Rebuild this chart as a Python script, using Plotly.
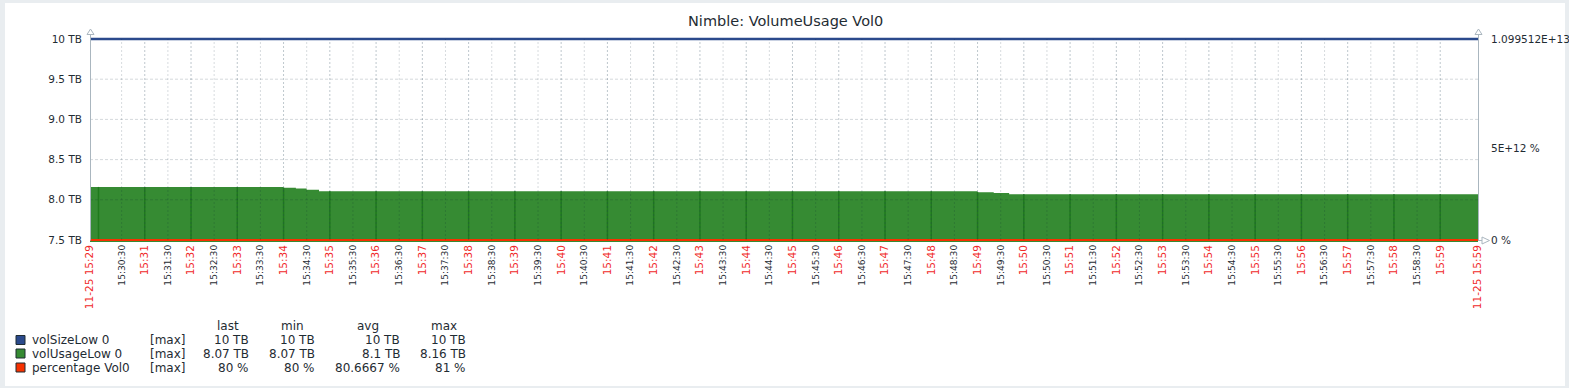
import plotly.graph_objects as go
import pandas as pd

# ---------------- data ----------------
DAY = "2023-11-25 "
START = "15:29:49"
END = "15:59:49"

SIZE_TIMES = ["15:29:49", "15:59:49"]
SIZE_TB = [10, 10]

USAGE_TIMES = ["15:29:49", "15:34:00", "15:34:16", "15:34:30", "15:34:46",
               "15:49:00", "15:49:21", "15:49:41", "15:59:49"]
USAGE_TB = [8.16, 8.15, 8.14, 8.125, 8.105, 8.095, 8.085, 8.07, 8.07]

PCT_TIMES = ["15:29:49", "15:39:49", "15:49:49", "15:59:49"]
PCT_VALUES = [81, 81, 80, 80]

MINUTE_TICKS = ["15:%02d" % m for m in range(31, 60)]
HALF_TICKS = ["15:%02d:30" % m for m in range(30, 59)]
EDGE_TICKS = [START, END]
EDGE_LABELS = ["11-25 15:29", "11-25 15:59"]
LINE_MINUTES = ["15:%02d" % m for m in range(30, 60)]

Y_TICKS = [7.5, 8.0, 8.5, 9.0, 9.5, 10.0]
Y_LABELS = ["7.5 TB", "8.0 TB", "8.5 TB", "9.0 TB", "9.5 TB", "10 TB"]
Y2_MAX = 1.099512e13
Y2_TICKS = [0, 5e12, Y2_MAX]
Y2_LABELS = ["0 %", "5E+12 %", "1.099512E+13 %"]

LEGEND_NAMES = ["volSizeLow 0", "volUsageLow 0", "percentage Vol0"]
LEGEND_FUNC = ["[max]", "[max]", "[max]"]
LEGEND_LAST = ["10 TB", "8.07 TB", "80 %"]
LEGEND_MIN = ["10 TB", "8.07 TB", "80 %"]
LEGEND_AVG = ["10 TB", "8.1 TB", "80.6667 %"]
LEGEND_MAX = ["10 TB", "8.16 TB", "81 %"]
LEGEND_HEAD = ["last", "min", "avg", "max"]

# ---------------- style ----------------
W, H = 1569, 388
L, R, T, B = 90, 1478, 37, 242
EXT_TB = 2 * 2.5 / 201.0
EXT_P = 2 * Y2_MAX / 201.0
FONT = "DejaVu Sans"
TXT = "#1f2c33"
BLUE = "#2b4a8c"
GREEN = "#368b33"
GREEN_DARK = "#1f7a1c"
RED = "#f63100"
AXIS = "#aab6bf"
LBL_RED = "#f02a2a"
COLORS = [BLUE, GREEN, RED]


def ts(t):
    return pd.Timestamp(DAY + t)


def px(x):
    return (x - L) / float(R - L)


def py(y):
    return (B - y) / float(B - T)


def usage_at(t):
    v = USAGE_TB[0]
    for tt, vv in zip(USAGE_TIMES, USAGE_TB):
        if ts(tt) <= t:
            v = vv
    return v


fig = go.Figure()

fig.add_trace(go.Scatter(x=[ts(t) for t in USAGE_TIMES], y=USAGE_TB, mode="lines",
                         line=dict(shape="hv", width=0, color=GREEN), fill="tozeroy",
                         fillcolor=GREEN, showlegend=False, hoverinfo="skip"))

lx, ly = [], []
for m in LINE_MINUTES:
    t = ts(m)
    lx += [t, t, None]
    ly += [Y_TICKS[0], usage_at(t), None]
fig.add_trace(go.Scatter(x=lx, y=ly, mode="lines", line=dict(color=GREEN_DARK, width=1.5),
                         showlegend=False, hoverinfo="skip"))

fig.add_trace(go.Scatter(x=[ts(t) for t in SIZE_TIMES], y=SIZE_TB, mode="lines",
                         line=dict(color=BLUE, width=2.3), showlegend=False))

fig.add_trace(go.Scatter(x=[ts(t) for t in PCT_TIMES], y=PCT_VALUES, mode="lines",
                         line=dict(color=RED, width=2.2, shape="hv"), yaxis="y2",
                         showlegend=False))

fig.add_trace(go.Scatter(x=[ts(START)], y=[None], xaxis="x2", yaxis="y",
                         showlegend=False, hoverinfo="skip"))

shapes = []
# white panel
shapes.append(dict(type="rect", xref="paper", yref="paper", x0=px(5), x1=px(1565),
                   y0=py(386), y1=py(3), fillcolor="white", line=dict(width=0), layer="below"))
# vertical grid
for m in MINUTE_TICKS:
    shapes.append(dict(type="line", xref="x", yref="y", x0=ts(m), x1=ts(m), y0=7.5, y1=10,
                       line=dict(color="rgba(40,70,90,0.3)", width=1, dash="2px,2px"),
                       layer="above"))
for m in HALF_TICKS:
    shapes.append(dict(type="line", xref="x", yref="y", x0=ts(m), x1=ts(m), y0=7.5, y1=10,
                       line=dict(color="rgba(0,30,50,0.16)", width=1, dash="2px,2px"),
                       layer="above"))
for v in Y_TICKS[1:-1]:
    shapes.append(dict(type="line", xref="paper", yref="y", x0=0, x1=1, y0=v, y1=v,
                       line=dict(color="rgba(0,30,50,0.17)", width=1, dash="3px,2px"),
                       layer="above"))
# axis lines and arrows
for xa in (90.5, 1478.5):
    shapes.append(dict(type="line", xref="paper", yref="paper", x0=px(xa), x1=px(xa),
                       y0=py(240.5), y1=py(34), line=dict(color=AXIS, width=1), layer="above"))
    shapes.append(dict(type="path", xref="paper", yref="paper",
                       path="M %f,%f L %f,%f L %f,%f Z" % (px(xa - 3.5), py(34.5), px(xa + 3.5), py(34.5), px(xa), py(29)),
                       line=dict(color=AXIS, width=1), fillcolor="white", layer="above"))
shapes.append(dict(type="line", xref="paper", yref="paper", x0=px(1478), x1=px(1482),
                   y0=py(240.5), y1=py(240.5), line=dict(color=AXIS, width=1), layer="above"))
shapes.append(dict(type="path", xref="paper", yref="paper",
                   path="M %f,%f L %f,%f L %f,%f Z" % (px(1482), py(237), px(1482), py(244), px(1489.5), py(240.5)),
                   line=dict(color=AXIS, width=1), fillcolor="white", layer="above"))
# legend squares
ROW_Y = [340, 353.5, 367.5]
for c, yy in zip(COLORS, ROW_Y):
    shapes.append(dict(type="rect", xref="paper", yref="paper", x0=px(16), x1=px(25),
                       y0=py(yy + 4.5), y1=py(yy - 4.5), fillcolor=c,
                       line=dict(color=TXT, width=1), layer="above"))

ann = []
ann.append(dict(text="Nimble: VolumeUsage Vol0", xref="paper", yref="paper", x=px(785.5), y=py(21.5),
                xanchor="center", yanchor="middle", showarrow=False,
                font=dict(family=FONT, size=14.5, color=TXT)))
for htxt, hx in zip(LEGEND_HEAD, [227.5, 292, 367.5, 444]):
    ann.append(dict(text=htxt, xref="paper", yref="paper", x=px(hx), y=py(326), xanchor="center",
                    yanchor="middle", showarrow=False, font=dict(family=FONT, size=12, color=TXT)))
for i, yy in enumerate(ROW_Y):
    ann.append(dict(text=LEGEND_NAMES[i], xref="paper", yref="paper", x=px(30), y=py(yy),
                    xanchor="left", yanchor="middle", showarrow=False,
                    font=dict(family=FONT, size=12, color=TXT)))
    ann.append(dict(text=LEGEND_FUNC[i], xref="paper", yref="paper", x=px(148), y=py(yy),
                    xanchor="left", yanchor="middle", showarrow=False,
                    font=dict(family=FONT, size=12, color=TXT)))
    for col, xr in zip([LEGEND_LAST, LEGEND_MIN, LEGEND_AVG, LEGEND_MAX], [251, 317, 402, 468]):
        ann.append(dict(text=col[i], xref="paper", yref="paper", x=px(xr), y=py(yy),
                        xanchor="right", yanchor="middle", showarrow=False,
                        font=dict(family=FONT, size=12, color=TXT)))

fig.update_layout(
    template="none",
    width=W, height=H,
    margin=dict(l=L, r=W - R, t=T, b=H - B, autoexpand=False),
    paper_bgcolor="#e9edf0",
    plot_bgcolor="rgba(0,0,0,0)",
    showlegend=False,
    shapes=shapes,
    annotations=ann,
    xaxis=dict(type="date", range=[ts(START), ts(END)],
               tickvals=[ts(t) for t in EDGE_TICKS + MINUTE_TICKS],
               ticktext=EDGE_LABELS + MINUTE_TICKS,
               tickangle=-90, ticks="", showgrid=False, zeroline=False, showline=False,
               tickfont=dict(family=FONT, size=10.5, color=LBL_RED), automargin=False,
               ticklabelstandoff=0),
    xaxis2=dict(type="date", range=[ts(START), ts(END)], overlaying="x", matches="x",
                side="bottom", anchor="y",
                tickvals=[ts(t) for t in HALF_TICKS], ticktext=HALF_TICKS,
                tickangle=-90, ticks="", showgrid=False, zeroline=False, showline=False,
                tickfont=dict(family=FONT, size=9.1, color=TXT), automargin=False,
                ticklabelstandoff=0),
    yaxis=dict(range=[7.5 - EXT_TB, 10 + EXT_TB], tickvals=Y_TICKS, ticktext=Y_LABELS,
               ticks="", showgrid=False, zeroline=False, showline=False,
               tickfont=dict(family=FONT, size=10.5, color=TXT), automargin=False,
               ticklabelstandoff=7),
    yaxis2=dict(range=[-EXT_P, Y2_MAX + EXT_P], overlaying="y", side="right",
                tickvals=Y2_TICKS, ticktext=Y2_LABELS, ticks="", showgrid=False,
                zeroline=False, showline=False,
                tickfont=dict(family=FONT, size=10.5, color=TXT), automargin=False,
                ticklabelstandoff=12),
)

fig.write_html("out.html", config={"displayModeBar": False},
               post_script="document.body.style.margin='0';document.body.style.overflow='hidden';")
